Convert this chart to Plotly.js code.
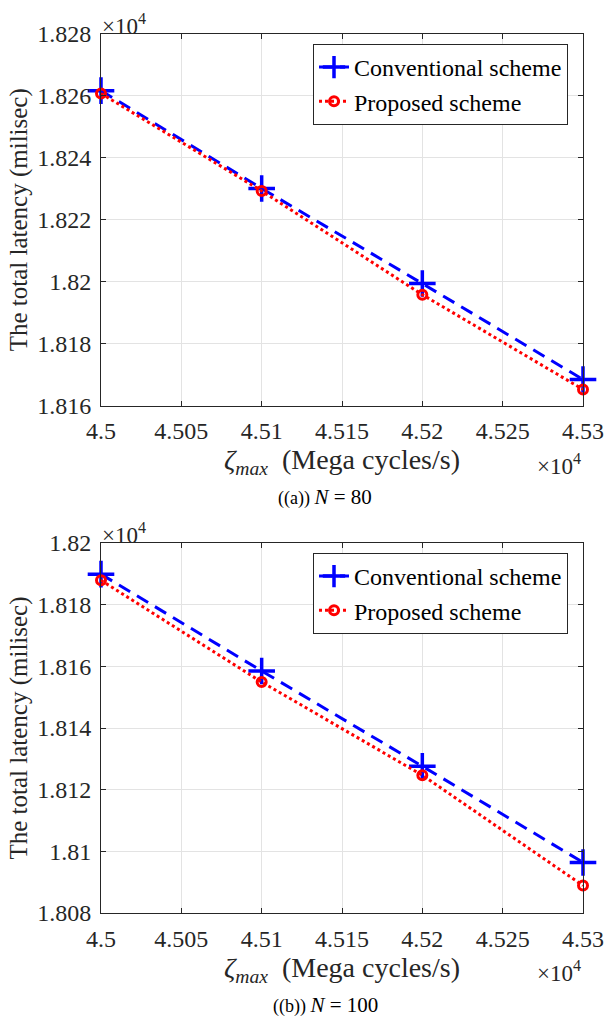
<!DOCTYPE html>
<html>
<head>
<meta charset="utf-8">
<script src="https://cdn.plot.ly/plotly-3.0.1.min.js"></script>
<style>html,body{margin:0;padding:0;background:#fff;}#chart{width:604px;height:1020px;}</style>
</head>
<body>
<div id="chart"></div>
<script>
// ---- data ----
const xVals = [45000, 45100, 45200, 45300];
const convA = [18261.7, 18230.1, 18199.4, 18168.4];
const propA = [18260.8, 18229.3, 18195.8, 18165.2];
const convB = [18189.9, 18158.5, 18127.6, 18096.4];
const propB = [18187.9, 18154.9, 18124.7, 18088.9];

const xTickVals = [45000, 45050, 45100, 45150, 45200, 45250, 45300];
const xTickText = ['4.5', '4.505', '4.51', '4.515', '4.52', '4.525', '4.53'];
const yTickValsA = [18160, 18180, 18200, 18220, 18240, 18260, 18280];
const yTickTextA = ['1.816', '1.818', '1.82', '1.822', '1.824', '1.826', '1.828'];
const yTickValsB = [18080, 18100, 18120, 18140, 18160, 18180, 18200];
const yTickTextB = ['1.808', '1.81', '1.812', '1.814', '1.816', '1.818', '1.82'];

const seriesNames = ['Conventional scheme', 'Proposed scheme'];
const captions = [
  "((a)) <span style='font-size:21px'><i>N</i> = 80</span>",
  "((b)) <span style='font-size:21px'><i>N</i> = 100</span>"
];

// ---- layout helpers ----
const W = 604, H = 1020;
const M = {l: 101, r: 21, t: 34, b: 107};
const PW = W - M.l - M.r, PH = H - M.t - M.b;
const px2x = p => (p - M.l) / PW;
const px2y = p => (H - M.b - p) / PH;

const serif = 'Liberation Serif';
const axisColor = '#262626';

function convTrace(y, xa, ya, lg) {
  return {
    x: xVals, y: y, xaxis: xa, yaxis: ya, legend: lg,
    name: seriesNames[0], type: 'scatter', mode: 'lines+markers', cliponaxis: false,
    line: {color: '#0000ff', width: 3, dash: '13px,8px'},
    marker: {symbol: 'cross-thin-open', size: 19, color: '#0000ff', line: {color: '#0000ff', width: 3.5}}
  };
}
function propTrace(y, xa, ya, lg) {
  return {
    x: xVals, y: y, xaxis: xa, yaxis: ya, legend: lg,
    name: seriesNames[1], type: 'scatter', mode: 'lines+markers', cliponaxis: false,
    line: {color: '#ff0000', width: 3, dash: 'dot'},
    marker: {symbol: 'circle-open', size: 9, color: '#ff0000', line: {color: '#ff0000', width: 3}}
  };
}

const data = [
  convTrace(convA, 'x', 'y', 'legend'),
  propTrace(propA, 'x', 'y', 'legend'),
  convTrace(convB, 'x2', 'y2', 'legend2'),
  propTrace(propB, 'x2', 'y2', 'legend2')
];

function xAxis(anchor) {
  return {
    anchor: anchor, domain: [0, 1], range: [45000, 45300],
    tickmode: 'array', tickvals: xTickVals, ticktext: xTickText,
    showline: true, mirror: 'ticks', linecolor: axisColor, linewidth: 1,
    ticks: 'inside', ticklen: 5, tickcolor: axisColor, ticklabelstandoff: 4,
    showgrid: true, gridcolor: '#e3e3e3', gridwidth: 1, zeroline: false,
    tickfont: {family: serif, size: 24, color: axisColor},
    title: {text: '<i>ζ<sub>max</sub></i>  (Mega cycles/s)', font: {family: serif, size: 28, color: axisColor}, standoff: 0},
    automargin: false
  };
}
function yAxis(anchor, domain, range, vals, text) {
  return {
    anchor: anchor, domain: domain, range: range,
    tickmode: 'array', tickvals: vals, ticktext: text,
    showline: true, mirror: 'ticks', linecolor: axisColor, linewidth: 1,
    ticks: 'inside', ticklen: 5, tickcolor: axisColor, ticklabelstandoff: 4,
    showgrid: true, gridcolor: '#e3e3e3', gridwidth: 1, zeroline: false,
    tickfont: {family: serif, size: 24, color: axisColor},
    title: {text: 'The total latency (milisec)', font: {family: serif, size: 25, color: axisColor}, standoff: 2},
    automargin: false
  };
}

function legendAt(top) {
  return {
    x: px2x(313), y: px2y(top), xanchor: 'left', yanchor: 'top',
    xref: 'paper', yref: 'paper',
    bgcolor: '#ffffff', bordercolor: axisColor, borderwidth: 1,
    font: {family: serif, size: 24, color: '#000000'},
    itemwidth: 30, tracegroupgap: 0
  };
}

function tenPow(x, y, xanchor, yanchor) {
  return {xref: 'paper', yref: 'paper', x: x, y: y, xanchor: xanchor, yanchor: yanchor,
    text: '×10<sup>4</sup>', showarrow: false, font: {family: serif, size: 23, color: axisColor}};
}
function caption(text, yPx) {
  return {xref: 'paper', yref: 'paper', x: px2x(325), y: px2y(yPx), xanchor: 'center', yanchor: 'middle',
    text: text, showarrow: false, font: {family: serif, size: 18, color: '#000000'}};
}

const layout = {
  width: W, height: H, margin: M,
  paper_bgcolor: '#ffffff', plot_bgcolor: '#ffffff',
  showlegend: true,
  xaxis: xAxis('y'),
  yaxis: yAxis('x', [px2y(405.5), 1], [18160, 18280], yTickValsA, yTickTextA),
  xaxis2: xAxis('y2'),
  yaxis2: yAxis('x2', [0, px2y(543)], [18080, 18200], yTickValsB, yTickTextB),
  legend: legendAt(44),
  legend2: legendAt(553),
  annotations: [
    tenPow(px2x(100), px2y(41), 'left', 'bottom'),
    tenPow(1, px2y(464), 'right', 'middle'),
    tenPow(px2x(100), px2y(550), 'left', 'bottom'),
    tenPow(1, px2y(971), 'right', 'middle'),
    caption(captions[0], 497),
    caption(captions[1], 1005)
  ]
};

Plotly.newPlot('chart', data, layout, {staticPlot: true, displayModeBar: false});
</script>
</body>
</html>
